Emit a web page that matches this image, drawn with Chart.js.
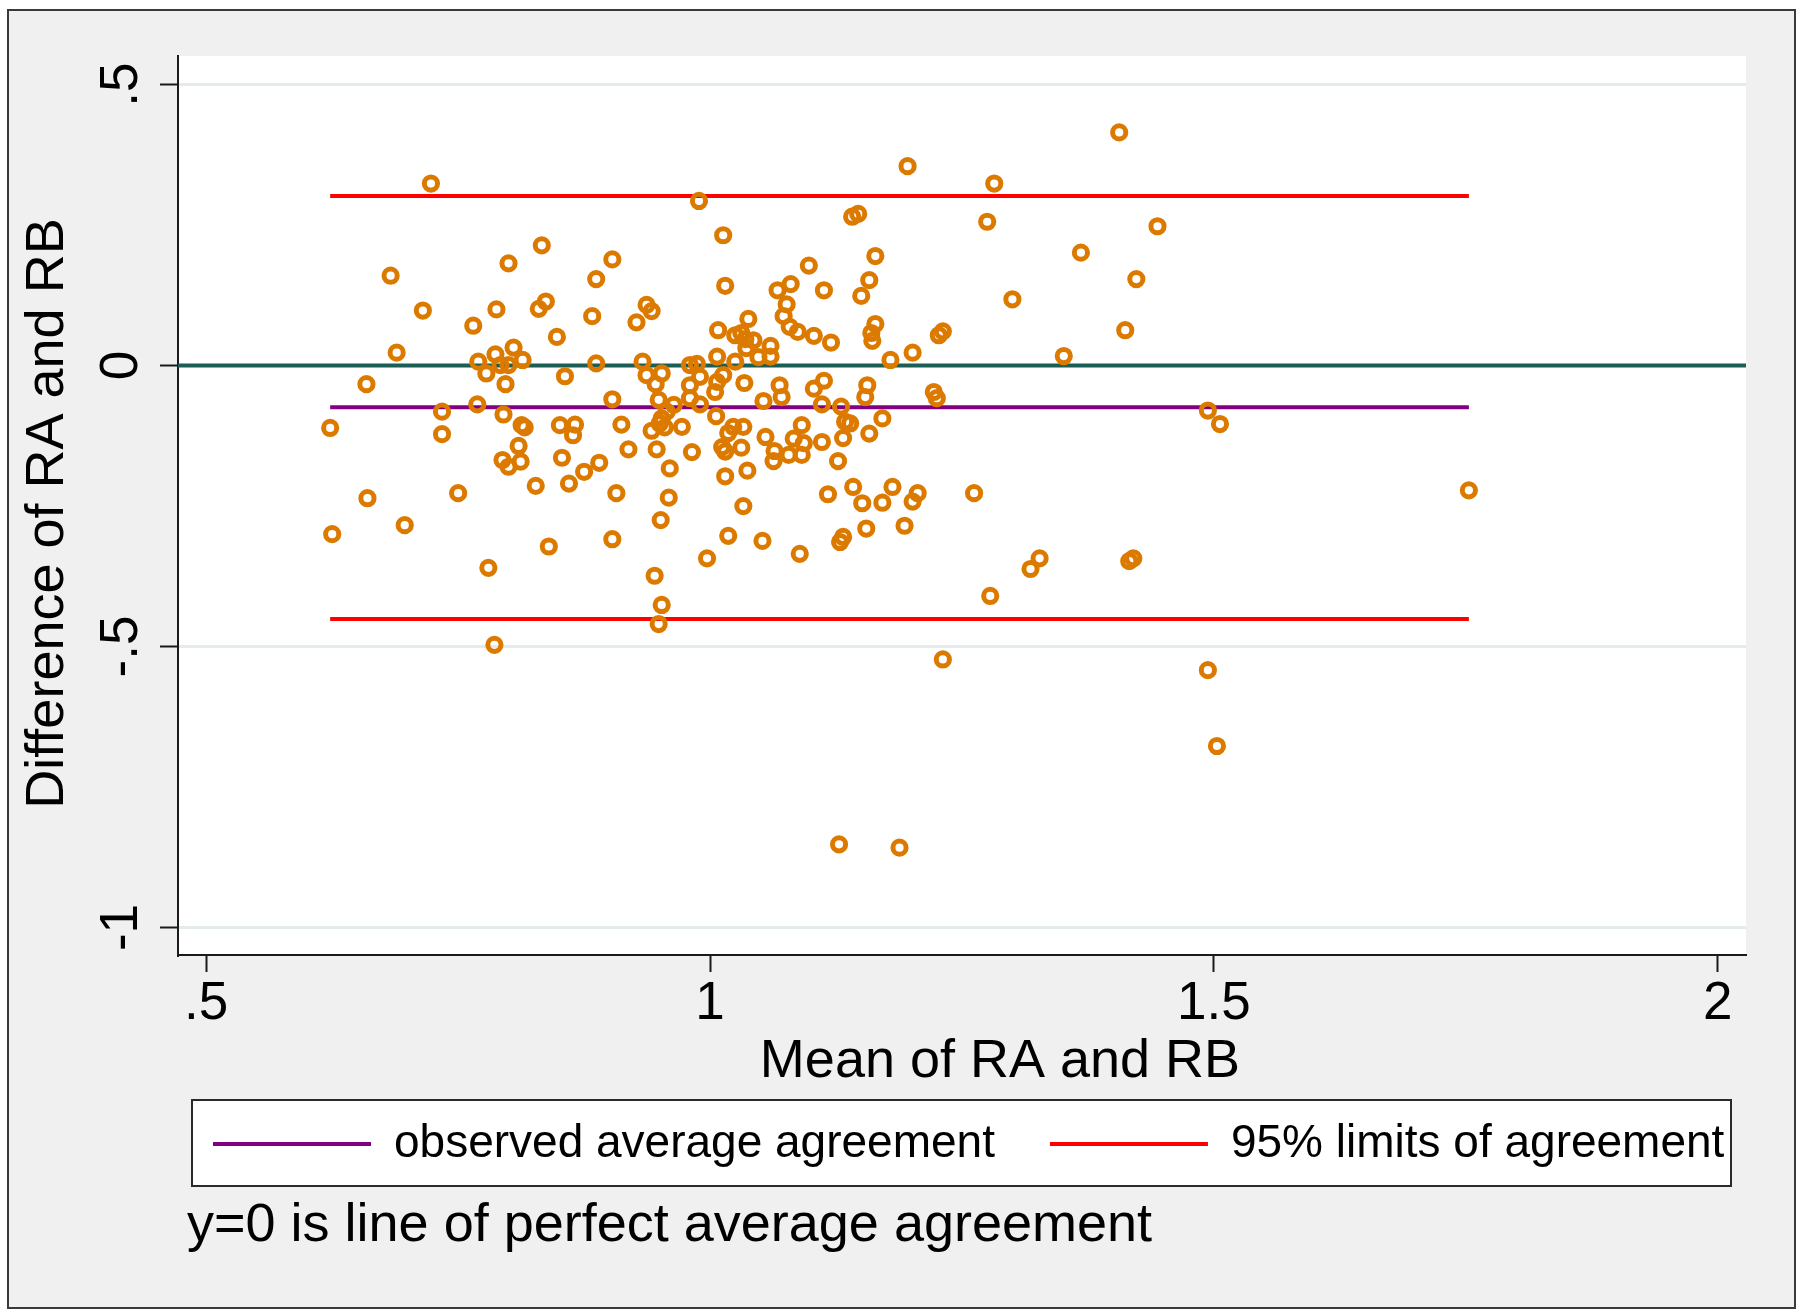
<!DOCTYPE html>
<html>
<head>
<meta charset="utf-8">
<script src="https://cdn.jsdelivr.net/npm/chart.js@4.4.1/dist/chart.umd.min.js"></script>
<style>
  html, body { margin: 0; padding: 0; background: #ffffff; width: 1800px; height: 1316px; overflow: hidden; }
  #frame { position: absolute; left: 7px; top: 9px; width: 1789px; height: 1300px; box-sizing: border-box;
           border: 2px solid #3a3a3a; background: #f0f0f0; }
  #wrap { position: absolute; left: 0; top: 0; width: 1800px; height: 1316px; }
  canvas { display: block; }
</style>
</head>
<body>
<div id="frame"></div>
<div id="wrap"><canvas id="chart" width="1800" height="1316"></canvas></div>
<script>
// ---------------- data ----------------
const meanVals = [
  0.723,0.833,0.800,0.683,0.887,0.715,0.788,0.830,0.837,0.883,0.765,0.848,0.689,0.805,0.787,0.770,0.792,0.800,0.814,0.778,0.856,0.887,0.797,0.659,
  0.989,1.013,0.903,1.141,1.147,1.164,1.098,1.015,1.158,1.067,1.080,1.113,1.150,0.937,0.942,0.927,1.076,1.073,1.079,1.087,1.103,1.120,1.038,1.008,1.025,1.031,1.035,1.043,1.036,1.060,1.060,1.048,1.007,1.025,1.164,1.160,1.161,0.933,0.980,0.987,0.937,0.952,0.946,0.980,0.990,1.013,1.007,1.034,1.069,1.113,1.103,1.156,1.005,
  1.406,1.196,1.282,1.275,1.444,1.368,1.423,1.300,1.412,1.227,1.231,1.201,1.179,1.351,1.222,
  0.734,0.769,0.623,0.734,0.795,0.813,0.816,0.851,0.866,0.864,0.810,0.794,0.800,0.812,0.853,0.890,0.875,0.860,0.827,0.660,0.750,0.697,0.625,0.840,0.780,0.786,
  0.903,0.949,0.964,0.980,0.990,1.053,1.071,1.111,1.130,1.154,0.952,0.957,0.950,0.912,0.942,0.955,0.972,1.006,1.018,1.023,1.033,1.055,1.083,1.091,1.093,1.111,1.134,1.139,1.132,1.158,1.171,0.919,0.947,0.982,1.012,1.015,1.031,1.064,1.063,1.078,1.091,1.127,0.960,1.015,1.037,0.907,0.959,1.117,1.142,1.151,1.171,1.033,0.951,0.903,1.018,1.052,1.155,1.132,1.129,0.997,1.089,0.945,0.952,0.949,
  1.225,1.181,1.206,1.201,1.193,1.262,1.327,1.318,1.420,1.416,1.278,1.231,
  1.494,1.506,1.753,1.494,1.503,1.128,1.188
];
const diffVals = [
  0.324,0.214,0.182,0.160,0.154,0.098,0.100,0.101,0.114,0.088,0.071,0.051,0.023,0.032,0.020,0.007,0.001,0.001,0.010,-0.014,-0.019,0.004,-0.033,-0.033,
  0.293,0.232,0.189,0.265,0.270,0.195,0.178,0.142,0.152,0.134,0.145,0.134,0.124,0.108,0.097,0.077,0.109,0.088,0.069,0.060,0.053,0.041,0.083,0.063,0.054,0.058,0.047,0.045,0.031,0.035,0.016,0.015,0.016,0.007,0.074,0.058,0.044,0.007,0.001,0.003,-0.017,-0.014,-0.033,-0.035,-0.020,-0.017,-0.029,-0.031,-0.035,-0.027,-0.041,-0.035,-0.047,
  0.415,0.355,0.324,0.256,0.248,0.201,0.154,0.118,0.063,0.054,0.061,0.023,0.010,0.017,-0.047,
  -0.082,-0.069,-0.111,-0.122,-0.087,-0.106,-0.110,-0.106,-0.105,-0.124,-0.143,-0.168,-0.180,-0.171,-0.164,-0.173,-0.189,-0.210,-0.214,-0.236,-0.227,-0.284,-0.300,-0.322,-0.360,-0.497,
  -0.060,-0.061,-0.070,-0.058,-0.069,-0.063,-0.056,-0.069,-0.073,-0.056,-0.094,-0.082,-0.103,-0.105,-0.116,-0.110,-0.109,-0.090,-0.120,-0.109,-0.109,-0.127,-0.130,-0.106,-0.138,-0.136,-0.100,-0.103,-0.129,-0.121,-0.094,-0.149,-0.149,-0.154,-0.145,-0.153,-0.146,-0.152,-0.170,-0.159,-0.159,-0.170,-0.183,-0.197,-0.187,-0.227,-0.235,-0.229,-0.216,-0.245,-0.244,-0.250,-0.275,-0.309,-0.303,-0.312,-0.290,-0.305,-0.314,-0.343,-0.335,-0.374,-0.426,-0.460,
  -0.058,-0.216,-0.227,-0.242,-0.285,-0.227,-0.343,-0.362,-0.343,-0.348,-0.410,-0.523,
  -0.080,-0.104,-0.222,-0.542,-0.677,-0.852,-0.858
];
const meanDifference = -0.074;          // observed average agreement
const limitsOfAgreement = [0.302, -0.451]; // 95% limits (upper, lower)
const perfectAgreement = 0;             // y = 0 reference line

const xTickValues = [0.5, 1, 1.5, 2];
const xTickLabels = ['.5', '1', '1.5', '2'];
const yTickValues = [-1, -0.5, 0, 0.5];
const yTickLabels = ['-1', '-.5', '0', '.5'];
const xAxisRange = [0.472, 2.028];
const yAxisRange = [-1.049, 0.551];

const xTitle = 'Mean of RA and RB';
const yTitle = 'Difference of RA and RB';
const legendLabels = ['observed average agreement', '95% limits of agreement'];
const noteText = 'y=0 is line of perfect average agreement';

// ---------------- styles ----------------
const FONT = "'Liberation Sans', Arial, Helvetica, sans-serif";
const COL = {
  marker: '#dc7a00',
  mean: '#800080',
  limits: '#ff0000',
  zero: '#1b5e55',
  grid: '#e3ebed',
  axis: '#1a1a1a'
};

const xLo = Math.min(...meanVals);
const xHi = Math.max(...meanVals);

// helper: shift a scale's title drawing
function shiftTitle(scale, dx, dy) {
  if (scale.$shifted) return;
  const orig = scale.drawTitle;
  scale.drawTitle = function () {
    const ctx = this.ctx;
    ctx.save();
    ctx.translate(dx, dy);
    orig.call(this);
    ctx.restore();
  };
  scale.$shifted = true;
}

const decor = {
  id: 'decor',
  afterLayout(chart) {
    const lg = chart.legend;
    if (lg) {
      lg.left = 158; lg.right = 1800; lg.top = 1066; lg.bottom = 1200;
      lg.width = lg.right - lg.left; lg.height = lg.bottom - lg.top;
    }
    const tb = chart.titleBlock;
    if (tb) {
      tb.left = 187; tb.right = 1800; tb.top = 1194; tb.bottom = 1290;
      tb.width = tb.right - tb.left; tb.height = tb.bottom - tb.top;
    }
  },
  beforeDraw(chart) {
    const { ctx, chartArea: a } = chart;
    ctx.save();
    ctx.fillStyle = '#ffffff';
    ctx.fillRect(a.left, a.top, a.right - a.left, a.bottom - a.top);
    // legend frame
    ctx.fillRect(192, 1100, 1539, 86);
    ctx.strokeStyle = '#2a2a2a';
    ctx.lineWidth = 2;
    ctx.strokeRect(192, 1100, 1539, 86);
    ctx.restore();
  }
};

const points = meanVals.map((x, i) => ({ x, y: diffVals[i] }));

new Chart(document.getElementById('chart'), {
  type: 'scatter',
  data: {
    datasets: [
      {
        label: 'points',
        data: points,
        pointRadius: 6.6,
        pointHoverRadius: 6.6,
        pointBorderWidth: 5,
        borderWidth: 5,
        pointStyle: 'circle',
        borderColor: COL.marker,
        backgroundColor: 'rgba(0,0,0,0)',
        showLine: false,
        order: 0
      },
      {
        label: legendLabels[0],
        data: [{ x: xLo, y: meanDifference }, { x: xHi, y: meanDifference }],
        showLine: true, pointRadius: 0, borderColor: COL.mean, borderWidth: 4, order: 1
      },
      {
        label: legendLabels[1],
        data: [{ x: xLo, y: limitsOfAgreement[0] }, { x: xHi, y: limitsOfAgreement[0] }],
        showLine: true, pointRadius: 0, borderColor: COL.limits, borderWidth: 4, order: 1
      },
      {
        label: 'lower limit',
        data: [{ x: xLo, y: limitsOfAgreement[1] }, { x: xHi, y: limitsOfAgreement[1] }],
        showLine: true, pointRadius: 0, borderColor: COL.limits, borderWidth: 4, order: 1
      },
      {
        label: 'perfect agreement',
        data: [{ x: xAxisRange[0], y: perfectAgreement }, { x: xAxisRange[1], y: perfectAgreement }],
        showLine: true, pointRadius: 0, borderColor: COL.zero, borderWidth: 4, order: 2
      }
    ]
  },
  options: {
    responsive: false,
    animation: false,
    devicePixelRatio: 1,
    events: [],
    layout: { padding: { left: 0, right: 54, top: 56, bottom: 0 } },
    scales: {
      x: {
        type: 'linear',
        min: xAxisRange[0],
        max: xAxisRange[1],
        afterBuildTicks: (s) => { s.ticks = xTickValues.map(v => ({ value: v })); },
        afterFit: (s) => { s.height = 140; s.paddingLeft = 0; s.paddingRight = 0; shiftTitle(s, 38, 0); },
        ticks: {
          autoSkip: false,
          maxRotation: 0, minRotation: 0,
          padding: 1,
          color: '#000',
          font: { family: FONT, size: 53 },
          callback: (v, i) => xTickLabels[i]
        },
        grid: { display: true, drawOnChartArea: false, drawTicks: true, tickLength: 17, tickColor: COL.axis, tickWidth: 2 },
        border: { display: true, color: COL.axis, width: 2 },
        title: { display: true, text: xTitle, color: '#000', font: { family: FONT, size: 54 }, padding: { top: 0, bottom: 0 } }
      },
      y: {
        type: 'linear',
        min: yAxisRange[0],
        max: yAxisRange[1],
        afterBuildTicks: (s) => { s.ticks = yTickValues.map(v => ({ value: v })); },
        afterFit: (s) => { s.width = 178; s.paddingTop = 0; s.paddingBottom = 0; shiftTitle(s, 0, 8); },
        ticks: {
          autoSkip: false,
          minRotation: 90, maxRotation: 90,
          crossAlign: 'center',
          padding: 7,
          color: '#000',
          font: { family: FONT, size: 53 },
          callback: (v, i) => yTickLabels[i]
        },
        grid: { display: true, drawOnChartArea: true, color: COL.grid, lineWidth: 3, drawTicks: true, tickLength: 18, tickColor: COL.axis, tickWidth: 2 },
        border: { display: true, color: COL.axis, width: 2 },
        title: { display: true, text: yTitle, color: '#000', font: { family: FONT, size: 54 }, padding: { top: 15.6, bottom: 0 } }
      }
    },
    plugins: {
      tooltip: { enabled: false },
      legend: {
        display: true,
        position: 'bottom',
        align: 'start',
        labels: {
          font: { family: FONT, size: 46 },
          color: '#000',
          boxWidth: 158,
          boxHeight: 4,
          padding: 55,
          generateLabels: () => [
            { text: legendLabels[0], fillStyle: COL.mean, strokeStyle: COL.mean, lineWidth: 0, hidden: false, datasetIndex: 1 },
            { text: legendLabels[1], fillStyle: COL.limits, strokeStyle: COL.limits, lineWidth: 0, hidden: false, datasetIndex: 2 }
          ]
        }
      },
      title: {
        display: true,
        position: 'bottom',
        align: 'start',
        text: noteText,
        color: '#000',
        font: { family: FONT, size: 54, weight: 'normal' },
        padding: { top: 0, bottom: 45.2 }
      }
    }
  },
  plugins: [decor]
});
</script>
</body>
</html>
